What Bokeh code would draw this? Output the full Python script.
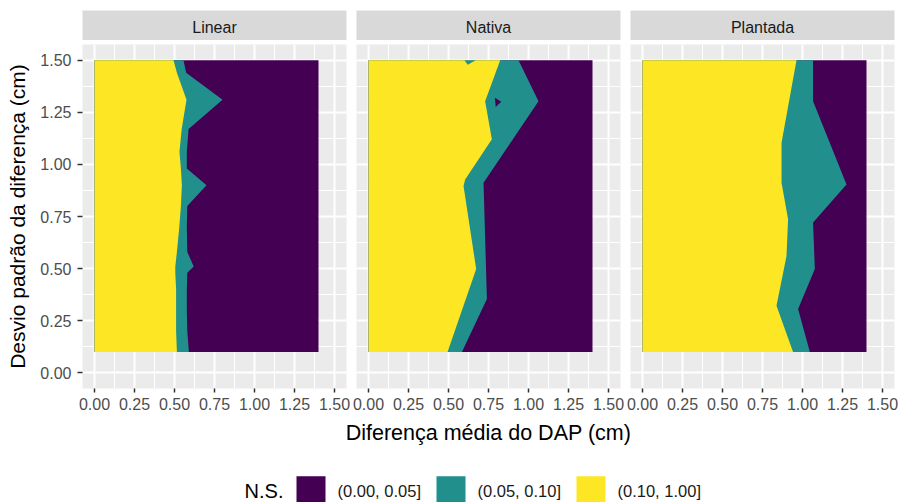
from bokeh.plotting import figure
from bokeh.layouts import column, row
from bokeh.models import Range1d, LinearAxis, FixedTicker, NumeralTickFormatter
from bokeh.core.properties import value
from bokeh.embed import file_html
from bokeh.resources import INLINE

# ---------------- data ----------------
facets = ["Linear", "Nativa", "Plantada"]
legend_title = "N.S."
classes = ["(0.00, 0.05]", "(0.05, 0.10]", "(0.10, 1.00]"]
class_colors = ["#440154", "#21908C", "#FDE725"]

x_title = "Diferença média do DAP (cm)"
y_title = "Desvio padrão da diferença (cm)"
x_ticks = [0.0, 0.25, 0.5, 0.75, 1.0, 1.25, 1.5]
y_ticks = [0.0, 0.25, 0.5, 0.75, 1.0, 1.25, 1.5]
x_minor = [0.125, 0.375, 0.625, 0.875, 1.125, 1.375]
y_minor = [0.125, 0.375, 0.625, 0.875, 1.125, 1.375]

# extent of the evaluated grid
grid_x = [0.0, 1.4]
grid_y = [0.1, 1.5]

# Linear: boundary yellow/teal (b1) and teal/purple (b2), top -> bottom
lin_y = [1.50, 1.44, 1.31, 1.17, 1.06, 0.98, 0.90, 0.80, 0.70, 0.58, 0.51, 0.48, 0.40, 0.30, 0.20, 0.10]
lin_b1 = [0.494, 0.515, 0.575, 0.545, 0.531, 0.540, 0.546, 0.540, 0.530, 0.515, 0.505, 0.505, 0.510, 0.510, 0.510, 0.515]
lin_b2 = [0.556, 0.573, 0.800, 0.588, 0.577, 0.577, 0.700, 0.580, 0.577, 0.580, 0.620, 0.580, 0.577, 0.577, 0.580, 0.590]

# Nativa
nat_b1_y = [1.50, 1.303, 1.12, 0.928, 0.896, 0.498, 0.10]
nat_b1_x = [0.823, 0.729, 0.771, 0.604, 0.594, 0.673, 0.494]
nat_b2_y = [1.50, 1.303, 0.912, 0.354, 0.10]
nat_b2_x = [0.9375, 1.0625, 0.719, 0.740, 0.584]
nat_hole_x = [0.790, 0.830, 0.795]
nat_hole_y = [1.320, 1.300, 1.275]
nat_blob_x = [0.600, 0.670, 0.620]
nat_blob_y = [1.500, 1.500, 1.478]

# Plantada
pla_b1_y = [1.50, 1.104, 0.912, 0.737, 0.561, 0.322, 0.10]
pla_b1_x = [0.9625, 0.869, 0.869, 0.910, 0.900, 0.8375, 0.941]
pla_b2_y = [1.50, 1.303, 0.904, 0.721, 0.498, 0.306, 0.10]
pla_b2_x = [1.066, 1.066, 1.275, 1.066, 1.077, 0.9725, 1.046]

panels = [
    dict(b1_x=lin_b1, b1_y=lin_y, b2_x=lin_b2, b2_y=lin_y, extra=[]),
    dict(b1_x=nat_b1_x, b1_y=nat_b1_y, b2_x=nat_b2_x, b2_y=nat_b2_y,
         extra=[(nat_hole_x, nat_hole_y, class_colors[0]),
                (nat_blob_x, nat_blob_y, class_colors[1])]),
    dict(b1_x=pla_b1_x, b1_y=pla_b1_y, b2_x=pla_b2_x, b2_y=pla_b2_y, extra=[]),
]

# ---------------- style / layout ----------------
FONT_NAME = "Liberation Sans"
FONT = value(FONT_NAME)
PANEL_BG = "#EBEBEB"
STRIP_BG = "#D9D9D9"
TOTAL_W, TOTAL_H = 901, 502
FRAME_W = 264
FRAME_H = 344
borders_lr = [(82, 5), (5, 5), (5, 7)]
STRIP_TOP, STRIP_H = 10, 30
PANEL_TOP, PANEL_BOTTOM = 4, 30
BOTTOM_H = TOTAL_H - (STRIP_TOP + STRIP_H) - (PANEL_TOP + FRAME_H + PANEL_BOTTOM)

xr = (grid_x[0] - 0.075, 1.5 + 0.075)
yr = (0.0 - 0.075, 1.5 + 0.075)

strips, figs = [], []
for i, (name, pan) in enumerate(zip(facets, panels)):
    bl, br = borders_lr[i]
    W = bl + FRAME_W + br

    s = figure(width=W, height=STRIP_TOP + STRIP_H, x_range=Range1d(0, 1), y_range=Range1d(0, 1),
               toolbar_location=None, output_backend="svg",
               x_axis_location=None, y_axis_location=None,
               min_border_left=bl, min_border_right=br, min_border_top=STRIP_TOP,
               min_border_bottom=0, background_fill_color=STRIP_BG,
               border_fill_color="white", outline_line_color=None)
    s.xgrid.visible = False
    s.ygrid.visible = False
    s.text(x=[0.5], y=[0.42], text=[name], text_align="center", text_baseline="middle",
           text_font=FONT, text_font_size="16px", text_color="#1A1A1A")
    strips.append(s)

    p = figure(width=W, height=PANEL_TOP + FRAME_H + PANEL_BOTTOM,
               x_range=Range1d(*xr), y_range=Range1d(*yr),
               toolbar_location=None, output_backend="svg",
               x_axis_location=None, y_axis_location=None,
               min_border_left=bl, min_border_right=br, min_border_top=PANEL_TOP,
               min_border_bottom=PANEL_BOTTOM, background_fill_color=PANEL_BG,
               border_fill_color="white", outline_line_color=None)
    p.xgrid.ticker = FixedTicker(ticks=x_ticks, minor_ticks=x_minor)
    p.ygrid.ticker = FixedTicker(ticks=y_ticks, minor_ticks=y_minor)
    for g in (p.xgrid, p.ygrid):
        g.grid_line_color = "white"
        g.grid_line_width = 2
        g.minor_grid_line_color = "white"
        g.minor_grid_line_width = 1

    xa = LinearAxis(ticker=FixedTicker(ticks=x_ticks), formatter=NumeralTickFormatter(format="0.00"))
    xa.axis_line_color = None
    xa.major_tick_line_color = "#333333"
    xa.major_tick_line_width = 1.5
    xa.major_tick_out = 4
    xa.major_tick_in = 0
    xa.minor_tick_line_color = None
    xa.major_label_standoff = 5
    xa.major_label_text_font = FONT_NAME
    xa.major_label_text_font_size = "16px"
    xa.major_label_text_color = "#4D4D4D"
    p.add_layout(xa, "below")

    if i == 0:
        ya = LinearAxis(ticker=FixedTicker(ticks=y_ticks), formatter=NumeralTickFormatter(format="0.00"))
        ya.axis_line_color = None
        ya.major_tick_line_color = "#333333"
        ya.major_tick_line_width = 1.5
        ya.major_tick_out = 5
        ya.major_tick_in = 0
        ya.minor_tick_line_color = None
        ya.major_label_standoff = 6
        ya.major_label_text_font = FONT_NAME
        ya.major_label_text_font_size = "16px"
        ya.major_label_text_color = "#4D4D4D"
        ya.axis_label = y_title
        ya.axis_label_standoff = 8
        ya.axis_label_text_font = FONT_NAME
        ya.axis_label_text_font_size = "21px"
        ya.axis_label_text_font_style = "normal"
        ya.axis_label_text_color = "black"
        p.add_layout(ya, "left")

    # purple background region over the evaluated grid
    p.quad(left=[grid_x[0]], right=[grid_x[1]], bottom=[grid_y[0]], top=[grid_y[1]],
           fill_color=class_colors[0], line_color=None)
    # teal region: from x=0 to teal/purple boundary
    tx = [grid_x[0]] + list(pan["b2_x"]) + [grid_x[0]]
    ty = [pan["b2_y"][0]] + list(pan["b2_y"]) + [pan["b2_y"][-1]]
    p.patch(tx, ty, fill_color=class_colors[1], line_color=None)
    # yellow region: from x=0 to yellow/teal boundary
    yx = [grid_x[0]] + list(pan["b1_x"]) + [grid_x[0]]
    yy = [pan["b1_y"][0]] + list(pan["b1_y"]) + [pan["b1_y"][-1]]
    p.patch(yx, yy, fill_color=class_colors[2], line_color=None)
    for ex, ey, col in pan["extra"]:
        p.patch(ex, ey, fill_color=col, line_color=None)
    figs.append(p)

# ---------------- x title + legend (full width, pixel units) ----------------
LEG_W = sum(bl + FRAME_W + br for bl, br in borders_lr)
lg = figure(width=LEG_W, height=BOTTOM_H, x_range=Range1d(0, LEG_W), y_range=Range1d(0, BOTTOM_H),
            toolbar_location=None, output_backend="svg", min_border=0,
            x_axis_location=None, y_axis_location=None, outline_line_color=None,
            background_fill_color="white", border_fill_color="white")
lg.xgrid.visible = False
lg.ygrid.visible = False

# x title centred under the three panels
panel_left = borders_lr[0][0]
panel_right = LEG_W - borders_lr[-1][1]
title_base = BOTTOM_H - 14
lg.text(x=[(panel_left + panel_right) / 2], y=[title_base], text=[x_title], text_align="center",
        text_baseline="alphabetic", text_font=FONT, text_font_size="21.5px", text_color="black")

key_x0, key_step, key_size, key_gap = 296, 140, 29, 12
key_top = 26.3
text_base = 12
lefts = [key_x0 + k * key_step for k in range(len(classes))]
lg.quad(left=lefts, right=[l + key_size for l in lefts],
        top=[key_top] * len(classes), bottom=[key_top - key_size] * len(classes),
        fill_color=class_colors, line_color=None)
lg.text(x=[l + key_size + key_gap for l in lefts], y=[text_base] * len(classes), text=classes,
        text_align="left", text_baseline="alphabetic", text_font=FONT,
        text_font_size="16.5px", text_color="#1A1A1A")
lg.text(x=[key_x0 - 13], y=[text_base], text=[legend_title], text_align="right",
        text_baseline="alphabetic", text_font=FONT, text_font_size="20px", text_color="black")

layout = column(row(*strips), row(*figs), lg)
open("out.html", "w").write(file_html(layout, INLINE))
